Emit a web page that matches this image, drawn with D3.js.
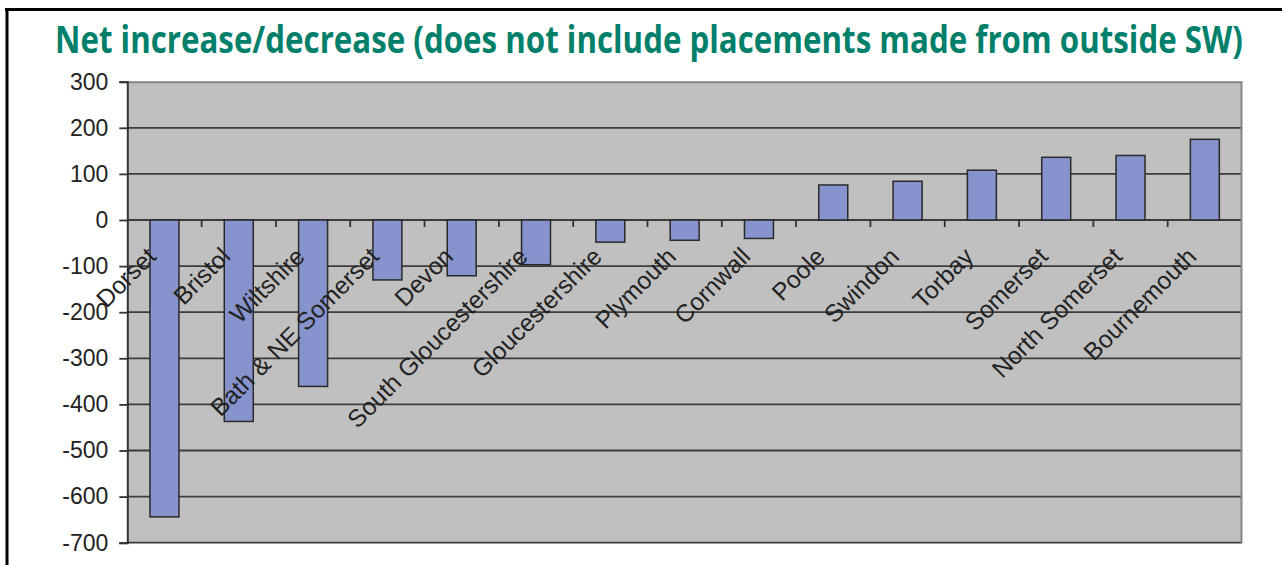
<!DOCTYPE html>
<html>
<head>
<meta charset="utf-8">
<script src="https://cdn.jsdelivr.net/npm/d3@7/dist/d3.min.js"></script>
<style>
    body { margin: 0; background: #fff; }
    svg { display: block; }
</style>
</head>
<body>
<svg id="chart"></svg>
<script>
// values
var areas = ["Dorset", "Bristol", "Wiltshire", "Bath & NE Somerset", "Devon",
    "South Gloucestershire", "Gloucestershire", "Plymouth", "Cornwall", "Poole",
    "Swindon", "Torbay", "Somerset", "North Somerset", "Bournemouth"];
var netChange = [-644, -437, -361, -130, -121, -97, -48, -44, -40, 76, 84, 108, 136, 140, 175];
var yTicks = [300, 200, 100, 0, -100, -200, -300, -400, -500, -600, -700];
var chartTitle = "Net increase/decrease (does not include placements made from outside SW)";

(function() {

    var width = 1282,
        height = 565;

    var margin = { top: 81.7, right: 40, bottom: 22.3, left: 127.3 },
        w = width - margin.left - margin.right,
        h = height - margin.top - margin.bottom;

    var rows = areas.map(function (a, i) { return { area: a, value: netChange[i] }; });

    var svg = d3.select("#chart")
        .attr("width", width)
        .attr("height", height);

    // outer frame (top + left edges only are visible)
    svg.append("line")
        .attr("x1", 5).attr("x2", width)
        .attr("y1", 9.5).attr("y2", 9.5)
        .attr("stroke", "#000").attr("stroke-width", 3);
    svg.append("line")
        .attr("x1", 7).attr("x2", 7)
        .attr("y1", 8).attr("y2", height)
        .attr("stroke", "#000").attr("stroke-width", 3);

    // title - squeezed horizontally to the width it has in the original
    var title = svg.append("text")
        .attr("font-family", "'Open Sans', sans-serif")
        .attr("font-weight", 700)
        .attr("font-size", "38px")
        .attr("fill", "#00806a")
        .text(chartTitle);
    var natural = title.node().getComputedTextLength();
    title.attr("transform", "translate(55,53) scale(" + (1188 / natural) + ",1)");

    var g = svg.append("g")
        .attr("transform", "translate(" + margin.left + "," + margin.top + ")");

    var x = d3.scaleBand()
        .domain(areas)
        .range([0, w])
        .paddingInner(0.61)
        .paddingOuter(0.305);

    var y = d3.scaleLinear()
        .domain([-700, 300])
        .range([h, 0]);

    // plot background
    g.append("rect")
        .attr("width", w)
        .attr("height", h)
        .attr("fill", "#c0c0c0");

    // gridlines
    g.append("g")
        .selectAll("line")
        .data(yTicks)
        .enter()
        .append("line")
        .attr("x1", 0).attr("x2", w)
        .attr("y1", function (d) { return y(d); })
        .attr("y2", function (d) { return y(d); })
        .attr("stroke", "#3c3c3c")
        .attr("stroke-width", function (d) { return d === 300 ? 0 : 1.8; });

    // plot border top/right
    g.append("path")
        .attr("d", "M0,0.5H" + (w - 0.5) + "V" + h)
        .attr("fill", "none")
        .attr("stroke", "#858585")
        .attr("stroke-width", 2);

    // bars
    g.selectAll(".bar")
        .data(rows)
        .enter()
        .append("rect")
        .attr("class", "bar")
        .attr("x", function (d) { return x(d.area); })
        .attr("y", function (d) { return y(Math.max(0, d.value)); })
        .attr("width", x.bandwidth())
        .attr("height", function (d) { return Math.abs(y(d.value) - y(0)); })
        .attr("fill", "#8793cc")
        .attr("stroke", "#2a2a2a")
        .attr("stroke-width", 1.5);

    // y axis
    var yAxis = g.append("g")
        .call(d3.axisLeft(y).tickValues(yTicks).tickSize(8).tickPadding(11).tickFormat(d3.format("d")));
    yAxis.select(".domain").attr("stroke", "#333").attr("stroke-width", 2);
    yAxis.selectAll(".tick line").attr("stroke", "#333").attr("stroke-width", 1.8);
    yAxis.selectAll(".tick text")
        .attr("font-family", "'Liberation Sans', Arial, sans-serif")
        .attr("font-size", "23px")
        .attr("fill", "#222")
        .text(function (d) { return d < 0 ? "-" + Math.abs(d) : d; });

    // category ticks along the zero line
    g.append("g")
        .selectAll("line")
        .data(areas.slice(1))
        .enter()
        .append("line")
        .attr("x1", function (d) { return x(d) - x.step() * x.paddingInner() / 2; })
        .attr("x2", function (d) { return x(d) - x.step() * x.paddingInner() / 2; })
        .attr("y1", y(0))
        .attr("y2", y(0) + 7)
        .attr("stroke", "#333")
        .attr("stroke-width", 1.8);

    // rotated category labels
    g.append("g")
        .selectAll("text")
        .data(areas)
        .enter()
        .append("text")
        .attr("transform", function (d) {
            return "translate(" + (x(d) + x.bandwidth() / 2 - 7) + "," + (y(0) + 38) + ") rotate(-45)";
        })
        .attr("text-anchor", "end")
        .attr("font-family", "'Liberation Sans', Arial, sans-serif")
        .attr("font-size", "24.5px")
        .attr("fill", "#222")
        .text(function (d) { return d; });

})();
</script>
</body>
</html>
